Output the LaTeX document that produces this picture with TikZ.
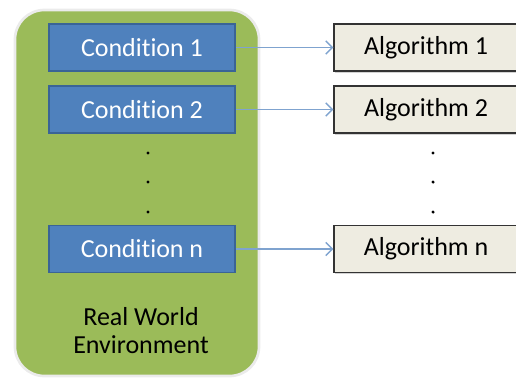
\documentclass[tikz,border=0pt]{standalone}
\usepackage{fontspec}
\setmainfont[Ligatures=NoCommon]{Carlito}
\usetikzlibrary{positioning,arrows.meta,shadows}
\definecolor{envgreen}{HTML}{9BBB59}
\definecolor{condblue}{HTML}{4F81BD}
\definecolor{condedge}{HTML}{3A6496}
\definecolor{algofill}{HTML}{EEECE1}
\definecolor{arrowblue}{HTML}{7FA3CF}
\tikzset{
  cond/.style={draw=condedge, line width=1pt, fill=condblue, text=white,
    minimum width=139.5pt, minimum height=35.25pt, font=\fontsize{19.5}{23}\selectfont},
  algo/.style={draw=black!80, line width=1pt, fill=algofill, text=black,
    minimum width=138pt, minimum height=35.25pt, font=\fontsize{19.5}{23}\selectfont,
    drop shadow={shadow xshift=0.6pt, shadow yshift=-1.2pt, opacity=.35}},
  link/.style={draw=arrowblue, line width=1pt, -{Straight Barb[length=5pt,width=10pt]}},
  vdot/.style={circle, fill=black, inner sep=0pt, minimum size=2.6pt}
}
\begin{document}
\begin{tikzpicture}[x=0.75pt,y=-0.75pt]
    \useasboundingbox (0,0) rectangle (516,379);
    \clip (0,0) rectangle (516,379);
    % environment
    \draw[fill=envgreen, draw=black!8, line width=2pt, rounded corners=22pt] (15,10) rectangle (259,376);
    \node[font=\fontsize{19.5}{21}\selectfont, align=center] (env) at (141,331) {Real World\\Environment};
    % conditions and algorithms
    \node[cond] (c1) at (142,47.5) {Condition 1};
    \node[cond] (c2) at (142,109.5) {Condition 2};
    \node[cond] (cn) at (142,249) {Condition n};
    \node[algo] (a1) at (426,47.5) {Algorithm 1};
    \node[algo] (a2) at (426,109.5) {Algorithm 2};
    \node[algo] (an) at (426,249) {Algorithm n};
    \foreach \y in {153,182,212} {
      \node[vdot] at (148,\y) {};
      \node[vdot] at (433,\y) {};
    }
    \draw[link] (c1) -- (a1);
    \draw[link] (c2) -- (a2);
    \draw[link] (cn) -- (an);
\end{tikzpicture}
\end{document}
